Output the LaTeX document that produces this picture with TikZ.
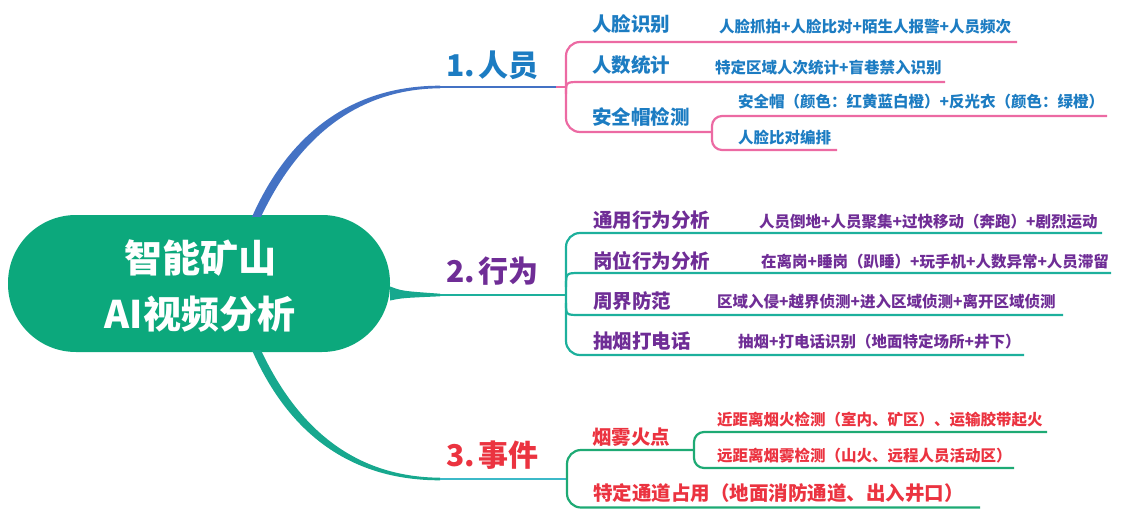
\documentclass[tikz,border=0pt]{standalone}
\usepackage{fontspec}
\setmainfont{Noto Sans CJK SC}
\definecolor{cgreen}{HTML}{0CA87C}
\definecolor{bline}{HTML}{4472C4}
\definecolor{btext}{HTML}{1C7CC2}
\definecolor{pinkl}{HTML}{EC6AA3}
\definecolor{purp}{HTML}{6F2D96}
\definecolor{tealA}{HTML}{1DB09C}
\definecolor{tealB}{HTML}{17A88E}
\definecolor{cyanl}{HTML}{3CB9C8}
\definecolor{greenl}{HTML}{1EAA74}
\definecolor{redt}{HTML}{EB3340}
\tikzset{
  cat/.style={anchor=west, inner sep=0pt, font=\fontsize{30}{36}\selectfont\bfseries},
  sub/.style={anchor=west, inner sep=0pt, font=\fontsize{19.5}{22}\selectfont\bfseries},
  det/.style={anchor=west, inner sep=0pt, font=\fontsize{15.5}{18}\selectfont\bfseries},
  brk/.style={line width=2.2pt, rounded corners=14pt},
  sbrk/.style={line width=2.2pt, rounded corners=10pt},
}
\begin{document}
\begin{tikzpicture}[x=1pt,y=-1pt]
\useasboundingbox (0,0) rectangle (1138,509);

% centre
\node[fill=cgreen, rounded corners=68pt, minimum width=382pt, minimum height=137pt, inner sep=0pt] (c) at (199,283.5) {};
\node[text=white, font=\fontsize{38}{56}\selectfont\bfseries, align=center, inner sep=0pt] (ct) at (200,286) {智能矿山\\AI视频分析};

% junction coordinates
\coordinate (b1s) at ([xshift=58pt]c.north);
\coordinate (b1e) at (440,87);
\coordinate (j1) at (566,87);
\coordinate (b2s) at ([yshift=-10pt]c.east);
\coordinate (j2) at (566,295);
\coordinate (b3s) at ([xshift=58pt]c.south);
\coordinate (b3e) at (440,479);
\coordinate (j3) at (567,479);

% ===== main branches =====
\fill[bline] ([xshift=-5pt,yshift=-2pt]b1s) .. controls (296,118) and (368,85.6) .. ([yshift=1.3pt]b1e)
   -- ([yshift=-1.3pt]b1e) .. controls (372,88.8) and (306,122) .. ([xshift=4pt,yshift=-2pt]b1s) -- cycle;
\draw[bline, line width=2.6pt] (b1e) -- ([xshift=-8pt]j1);

\fill[tealB] ([yshift=7pt]b2s) .. controls (402,291) .. (440,293.7) -- (440,296.3) .. controls (402,298) .. ([yshift=-7pt]b2s) -- cycle;
\draw[tealA, line width=2.6pt] (440,295) -- (j2);

\fill[tealB] ([xshift=-5pt,yshift=2pt]b3s) .. controls (296,450) and (368,480.4) .. ([yshift=-1.3pt]b3e)
   -- ([yshift=1.3pt]b3e) .. controls (372,477.2) and (306,446) .. ([xshift=4pt,yshift=2pt]b3s) -- cycle;
\draw[cyanl, line width=2.6pt] (b3e) -- ([xshift=-6pt]j3);

% ===== categories =====
\node[cat, text=btext] (n1) at (446,65) {1.\hspace{4pt}人员};
\node[cat, text=purp] (n2) at (446,271) {2.\hspace{4pt}行为};
\node[cat, text=redt] (n3) at (446,455) {3.\hspace{4pt}事件};

% ===== section 1 =====
\draw[pinkl, line width=2.4pt] ([xshift=-10pt]j1) -- (j1);
\draw[pinkl, brk] (1017,42) -- (566,42) -- (566,132) -- (712,132);
\draw[pinkl, line width=2.2pt] (566,94) .. controls (566,82) .. (580,82) -- (945,82);
\draw[pinkl, sbrk] (1107,116) -- (712,116) -- (712,150) -- (837,150);

\node[sub, text=btext] (s11) at (592,24) {人脸识别};
\node[sub, text=btext] (s12) at (592,65) {人数统计};
\node[sub, text=btext] (s13) at (592,117) {安全帽检测};
\node[det, text=btext] (d11) at (719,27) {人脸抓拍+人脸比对+陌生人报警+人员频次};
\node[det, text=btext] (d12) at (715,68) {特定区域人次统计+盲巷禁入识别};
\node[det, text=btext] (d13) at (738,102) {安全帽（颜色：红黄蓝白橙）+反光衣（颜色：绿橙）};
\node[det, text=btext] (d14) at (738,138) {人脸比对编排};

% ===== section 2 =====
\draw[tealA, brk] (1102,233) -- (566,233) -- (566,355) -- (1024,355);
\draw[tealA, line width=2.2pt] (566,287) .. controls (566,273) .. (580,273) -- (1111,273);
\draw[tealA, line width=2.2pt] (566,303) .. controls (566,315) .. (580,315) -- (1063,315);

\node[sub, text=purp] (s21) at (593,220) {通用行为分析};
\node[sub, text=purp] (s22) at (593,261) {岗位行为分析};
\node[sub, text=purp] (s23) at (593,301) {周界防范};
\node[sub, text=purp] (s24) at (593,341) {抽烟打电话};
\node[det, text=purp] (d21) at (759,222) {人员倒地+人员聚集+过快移动（奔跑）+剧烈运动};
\node[det, text=purp] (d22) at (761,262) {在离岗+睡岗（趴睡）+玩手机+人数异常+人员滞留};
\node[det, text=purp] (d23) at (717,302) {区域入侵+越界侦测+进入区域侦测+离开区域侦测};
\node[det, text=purp] (d24) at (738,342) {抽烟+打电话识别（地面特定场所+井下）};

% ===== section 3 =====
\draw[cyanl, line width=2.4pt] ([xshift=-8pt]j3) -- (j3);
\draw[greenl, brk] (694,450) -- (567,450) -- (567,507.5) -- (980,507.5);
\draw[greenl, sbrk] (1047,432) -- (694,432) -- (694,468) -- (1014,468);

\node[sub, text=redt] (s31) at (592,437) {烟雾火点};
\node[sub, text=redt] (s32) at (593,493) {特定通道占用（地面消防通道、出入井口）};
\node[det, text=redt] (d31) at (717,420) {近距离烟火检测（室内、矿区）、运输胶带起火};
\node[det, text=redt] (d32) at (717,456) {远距离烟雾检测（山火、远程人员活动区）};
\end{tikzpicture}
\end{document}
